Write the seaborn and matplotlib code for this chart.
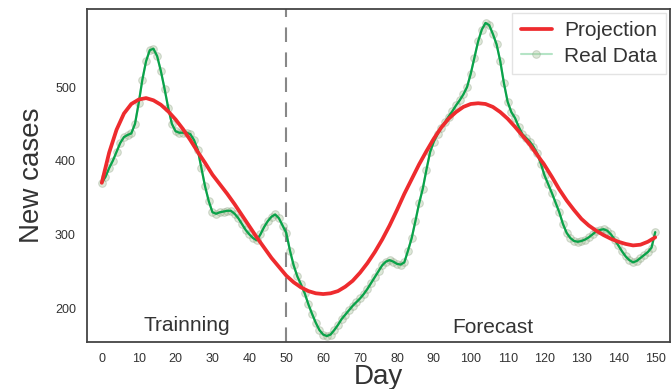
import numpy as np
import pandas as pd
import matplotlib
matplotlib.use('Agg')
import matplotlib.pyplot as plt
import seaborn as sns

# daily new cases (real data), day 0..150
days = list(range(0, 151))
new_cases = [
    370, 378, 390, 400, 412, 424, 432, 435, 437, 450,
    478, 510, 535, 550, 552, 542, 522, 498, 472, 450,
    440, 438, 438, 438, 436, 428, 415, 390, 365, 345,
    330, 328, 330, 331, 332, 332, 328, 322, 314, 306,
    300, 295, 292, 300, 310, 318, 324, 327, 322, 312,
    302, 278, 258, 243, 232, 220, 205, 192, 180, 170,
    164, 162, 164, 170, 177, 185, 191, 197, 203, 208,
    213, 219, 226, 234, 242, 250, 258, 263, 265, 263,
    260, 259, 262, 278, 295, 318, 342, 362, 388, 412,
    426, 436, 445, 452, 460, 467, 475, 482, 490, 500,
    518, 540, 562, 578, 587, 584, 572, 558, 535, 505,
    480, 466, 458, 446, 436, 431, 426, 419, 410, 396,
    380, 368, 356, 343, 330, 314, 302, 295, 291, 290,
    291, 293, 296, 300, 304, 306, 307, 305, 300, 293,
    285, 277, 270, 265, 262, 264, 268, 272, 276, 282,
    303,
]

# projection curve, every 2 days
proj_days = list(range(0, 151, 2))
projection = [
    370, 411, 442, 464, 477, 483, 485, 482, 476, 467,
    456, 443, 428, 412, 397, 381, 368, 355, 341, 326,
    311, 296, 282, 268, 256, 244, 235, 228, 223, 220,
    219, 220, 223, 229, 237, 248, 261, 276, 293, 312,
    333, 355, 375, 395, 413, 430, 445, 457, 466, 473,
    477, 478, 477, 473, 466, 457, 446, 434, 422, 408,
    394, 378, 361, 346, 333, 321, 312, 305, 299, 294,
    290, 287, 285, 286, 290, 296,
]

split_day = 50
xticks = list(range(0, 151, 10))
yticks = [200, 300, 400, 500]

real = pd.DataFrame({'Day': days, 'New cases': new_cases})
proj = pd.DataFrame({'Day': proj_days, 'New cases': projection})

sns.set_theme(style='white')
plt.rcParams['font.family'] = ['Liberation Sans', 'DejaVu Sans']

fig = plt.figure(figsize=(6.72, 3.89), dpi=100)
ax = fig.add_axes([0.1295, 0.121, 0.8675, 0.856])

# real data points (faded) + green line
sns.lineplot(data=real, x='Day', y='New cases', ax=ax, color='#2db35d',
             alpha=0.35, lw=1.5, marker='o', markersize=5.5,
             markerfacecolor='#9fbf90', markeredgecolor='#8a9a80',
             label='Real Data', zorder=2)
sns.lineplot(data=real, x='Day', y='New cases', ax=ax, color='#0aa24a',
             lw=1.6, legend=False, zorder=3)
sns.lineplot(data=proj, x='Day', y='New cases', ax=ax, color='#ee2b2e',
             lw=2.7, label='Projection', zorder=4)

ax.axvline(split_day, color='#888888', lw=1.5, dashes=(7, 5), zorder=1)

ax.text(23, 176, 'Trainning', fontsize=15, color='#333333', ha='center', va='center')
ax.text(106, 174, 'Forecast', fontsize=15, color='#333333', ha='center', va='center')

ax.set_xlim(-4, 154)
ax.set_ylim(154, 606)
ax.set_xticks(xticks)
ax.set_yticks(yticks)
ax.tick_params(labelsize=9, labelcolor='#333333', pad=2)
ax.set_xlabel('Day', fontsize=20, color='#333333', labelpad=-0.5)
ax.set_ylabel('New cases', fontsize=20, color='#333333', labelpad=7)

for s in ax.spines.values():
    s.set_color('#444444')
    s.set_linewidth(1.3)

h, l = ax.get_legend_handles_labels()
order = [l.index('Projection'), l.index('Real Data')]
leg = ax.legend([h[i] for i in order], [l[i] for i in order], loc='upper right',
                fontsize=15, frameon=True, fancybox=False, borderaxespad=0.2,
                handlelength=1.5, handletextpad=0.6, borderpad=0.4,
                labelspacing=0.3)
leg.get_frame().set_edgecolor('#dddddd')
for t in leg.get_texts():
    t.set_color('#333333')

fig.savefig('out.png', dpi=100)
